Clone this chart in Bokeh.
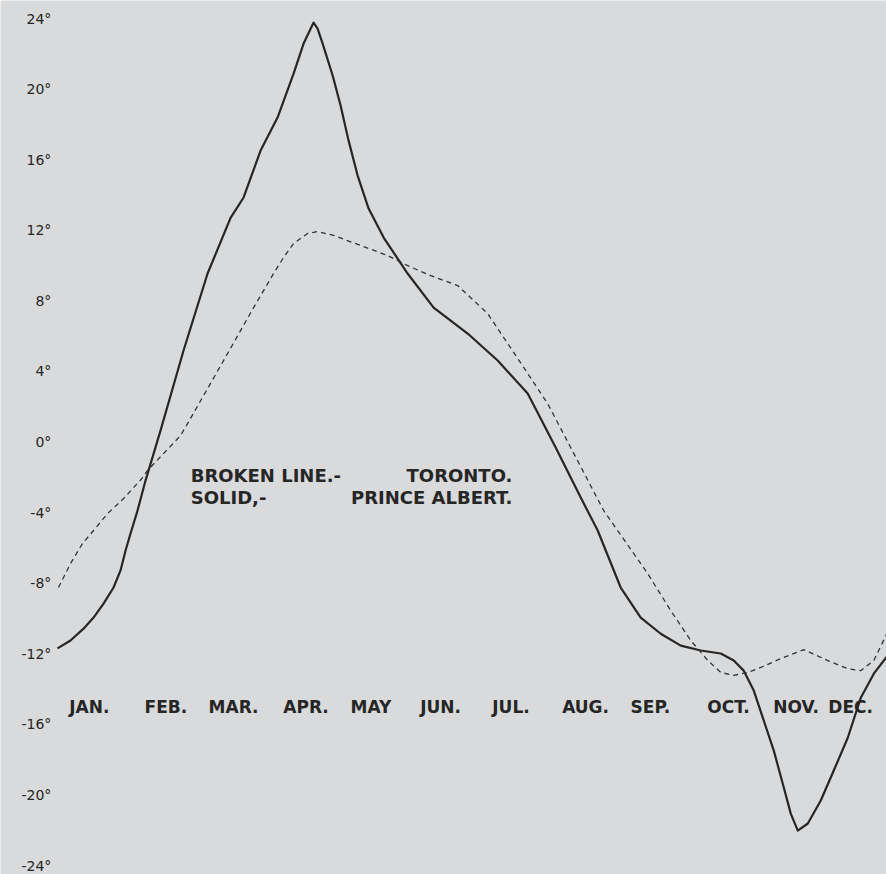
from bokeh.plotting import figure
from bokeh.models import Range1d
from bokeh.core.properties import value
from bokeh.embed import file_html
from bokeh.resources import INLINE

# ---- data (x in months from start of curve, y in degrees) ----
# Solid line: Prince Albert
solid_x = [0.000, 0.188, 0.377, 0.522, 0.667, 0.812, 0.913, 0.986, 1.058, 1.159, 1.275,
           1.493, 1.826, 2.174, 2.507, 2.696, 2.942, 3.188, 3.420, 3.565, 3.710, 3.768,
           3.841, 3.986, 4.101, 4.217, 4.348, 4.507, 4.725, 5.072, 5.449, 5.942, 6.377, 6.812,
           7.217, 7.580, 7.826, 8.159, 8.449, 8.739, 9.029, 9.319, 9.609, 9.797, 9.942,
           10.087, 10.232, 10.377, 10.522, 10.623, 10.725, 10.870, 11.058, 11.246, 11.449,
           11.638, 11.826, 12.014]
solid_y = [-11.69, -11.24, -10.57, -9.94, -9.15, -8.24, -7.27, -6.14, -5.18, -3.88, -2.18,
           0.66, 5.19, 9.55, 12.70, 13.86, 16.52, 18.39, 20.88, 22.58, 23.77, 23.43,
           22.58, 20.77, 19.07, 17.08, 15.10, 13.23, 11.59, 9.55, 7.62, 6.15, 4.62, 2.75,
           -0.31, -3.14, -5.01, -8.24, -9.94, -10.86, -11.53, -11.81, -11.98, -12.38, -12.95,
           -14.08, -15.78, -17.48, -19.57, -21.05, -22.01, -21.61, -20.31, -18.61, -16.75,
           -14.48, -13.12, -12.16]

# Broken line: Toronto
dash_x = [0.014, 0.188, 0.362, 0.522, 0.725, 0.957, 1.203, 1.304, 1.783, 1.884, 2.464,
          2.841, 3.130, 3.275, 3.420, 3.623, 3.768, 4.000, 4.391, 4.783, 5.072, 5.406,
          5.797, 6.232, 6.754, 7.101, 7.435, 7.913, 8.551, 8.884, 9.174, 9.420, 9.609,
          9.797, 10.000, 10.188, 10.478, 10.812, 11.159, 11.449, 11.638, 11.826, 12.014]
dash_y = [-8.24, -6.88, -5.75, -5.01, -4.05, -3.20, -2.15, -1.61, 0.37, 1.05, 5.02,
          7.62, 9.55, 10.46, 11.25, 11.82, 11.93, 11.71, 11.14, 10.57, 10.00, 9.43,
          8.87, 7.28, 4.23, 2.18, -0.31, -3.88, -7.45, -9.55, -11.24, -12.37, -13.05,
          -13.22, -13.05, -12.77, -12.27, -11.76, -12.38, -12.84, -12.95, -12.38, -10.86]

months = ["JAN.", "FEB.", "MAR.", "APR.", "MAY", "JUN.", "JUL.", "AUG.", "SEP.", "OCT.", "NOV.", "DEC."]
month_pos = [0.46, 1.57, 2.55, 3.60, 4.54, 5.55, 6.57, 7.65, 8.59, 9.72, 10.70, 11.49]
y_ticks = [24, 20, 16, 12, 8, 4, 0, -4, -8, -12, -16, -20, -24]
y_labels = [f"{t}\u00b0" for t in y_ticks]

BG = "#d9dadb"
INK = "#262626"
FONT = value("DejaVu Sans")

p = figure(width=886, height=874, output_backend="svg", toolbar_location=None,
           x_range=Range1d(-0.826, 12.01), y_range=Range1d(-24.5, 25.02),
           min_border_left=0, min_border_right=0, min_border_top=0, min_border_bottom=0)
p.background_fill_color = BG
p.border_fill_color = BG
p.outline_line_color = None
p.grid.visible = False
p.axis.visible = False

# temperature scale labels (drawn at their tick values, left of the curves)
p.text(x=[-0.09] * len(y_ticks), y=y_ticks, text=y_labels,
       text_font=FONT, text_font_size="14px", text_color=INK,
       text_align="right", text_baseline="middle")

p.line(solid_x, solid_y, line_color=INK, line_width=2.2, line_join="round")
p.line(dash_x, dash_y, line_color="#333333", line_width=1.3, line_dash="5 4")

p.text(x=month_pos, y=[-15.0] * len(months), text=months,
       text_font=FONT, text_font_style="bold", text_font_size="17px",
       text_color=INK, text_align="center", text_baseline="middle")

p.text(x=[1.93, 1.93], y=[-1.9, -3.15], text=["BROKEN LINE.-", "SOLID,-"],
       text_font=FONT, text_font_style="bold", text_font_size="18px",
       text_color=INK, text_align="left", text_baseline="middle")
p.text(x=[6.59, 6.59], y=[-1.9, -3.15], text=["TORONTO.", "PRINCE ALBERT."],
       text_font=FONT, text_font_style="bold", text_font_size="18px",
       text_color=INK, text_align="right", text_baseline="middle")

open("out.html", "w").write(file_html(p, INLINE))
